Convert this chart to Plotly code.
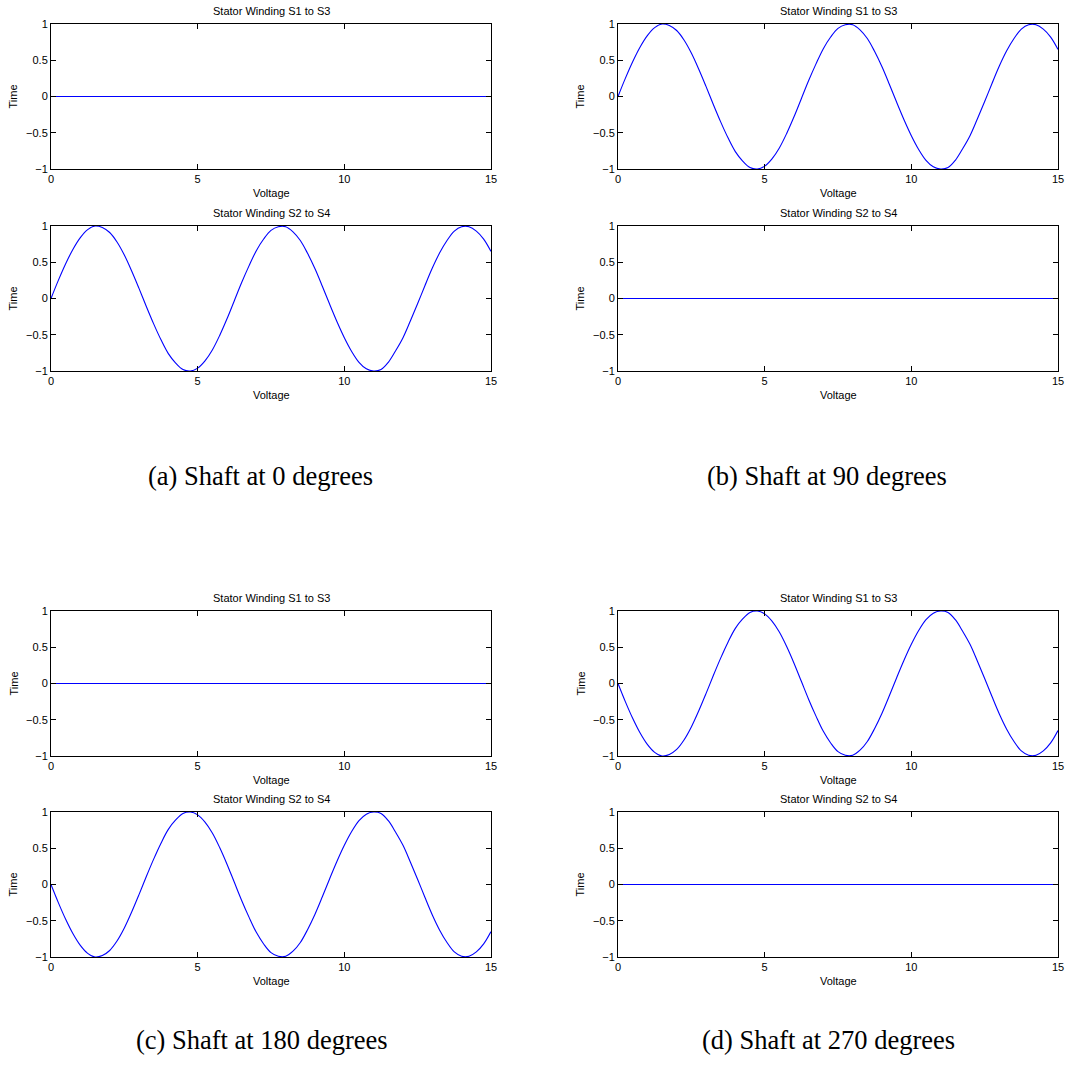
import plotly.graph_objects as go

# ---- data ----
x_volt = [0, 0.25, 0.5, 0.75, 1, 1.25, 1.5, 1.75, 2, 2.25, 2.5, 2.75, 3, 3.25, 3.5, 3.75,
          4, 4.25, 4.5, 4.75, 5, 5.25, 5.5, 5.75, 6, 6.25, 6.5, 6.75, 7, 7.25, 7.5, 7.75,
          8, 8.25, 8.5, 8.75, 9, 9.25, 9.5, 9.75, 10, 10.25, 10.5, 10.75, 11, 11.25, 11.5,
          11.75, 12, 12.25, 12.5, 12.75, 13, 13.25, 13.5, 13.75, 14, 14.25, 14.5, 14.75, 15]
wave_pos = [0.00, 0.25, 0.48, 0.68, 0.84, 0.95, 1.00, 0.98, 0.91, 0.78, 0.60, 0.38, 0.14,
            -0.11, -0.35, -0.57, -0.76, -0.89, -0.98, -1.00, -0.96, -0.86, -0.71, -0.51,
            -0.28, -0.03, 0.22, 0.45, 0.66, 0.82, 0.94, 0.99, 0.99, 0.92, 0.80, 0.62, 0.41,
            0.17, -0.08, -0.32, -0.54, -0.73, -0.88, -0.97, -1.00, -0.98, -0.88, -0.72,
            -0.54, -0.31, -0.07, 0.18, 0.42, 0.63, 0.80, 0.93, 0.99, 0.99, 0.93, 0.82, 0.65]
wave_neg = [0.00, -0.25, -0.48, -0.68, -0.84, -0.95, -1.00, -0.98, -0.91, -0.78, -0.60, -0.38,
            -0.14, 0.11, 0.35, 0.57, 0.76, 0.89, 0.98, 1.00, 0.96, 0.86, 0.71, 0.51,
            0.28, 0.03, -0.22, -0.45, -0.66, -0.82, -0.94, -0.99, -0.99, -0.92, -0.80, -0.62,
            -0.41, -0.17, 0.08, 0.32, 0.54, 0.73, 0.88, 0.97, 1.00, 0.98, 0.88, 0.72,
            0.54, 0.31, 0.07, -0.18, -0.42, -0.63, -0.80, -0.93, -0.99, -0.99, -0.93, -0.82, -0.65]
x_flat = [0, 15]
wave_flat = [0, 0]

x_ticks = [0, 5, 10, 15]
y_ticks = [-1, -0.5, 0, 0.5, 1]
y_tick_text = ["\u22121", "\u22120.5", "0", "0.5", "1"]
title_13 = "Stator Winding S1 to S3"
title_24 = "Stator Winding S2 to S4"
captions = ["(a) Shaft at 0 degrees", "(b) Shaft at 90 degrees",
            "(c) Shaft at 180 degrees", "(d) Shaft at 270 degrees"]

# ---- layout geometry (page pixels) ----
W, H = 1067, 1079
cols = [(51, 491), (618, 1058)]
rows_px = [(24, 169), (226, 371), (611, 756), (812, 957)]
cap_pos = [(260, 476), (827, 476), (262, 1040), (828, 1040)]

# panels: (col, row, x, y, title)
panels = [
    (0, 0, x_flat, wave_flat, title_13),
    (0, 1, x_volt, wave_pos, title_24),
    (1, 0, x_volt, wave_pos, title_13),
    (1, 1, x_flat, wave_flat, title_24),
    (0, 2, x_flat, wave_flat, title_13),
    (0, 3, x_volt, wave_neg, title_24),
    (1, 2, x_volt, wave_neg, title_13),
    (1, 3, x_flat, wave_flat, title_24),
]

fig = go.Figure()
annotations = []
FONT = "Liberation Sans, Arial, sans-serif"

def px_x(p):
    return p / W

def px_y(p):
    return 1 - p / H

for i, (c, r, xs, ys, ttl) in enumerate(panels):
    n = i + 1
    xa = "x" if n == 1 else f"x{n}"
    ya = "y" if n == 1 else f"y{n}"
    fig.add_trace(go.Scatter(x=xs, y=ys, mode="lines", xaxis=xa, yaxis=ya,
                             line=dict(color="#0000ff", width=1.1, shape="spline", smoothing=1.0),
                             showlegend=False, hoverinfo="skip"))
    x0, x1 = cols[c]
    t, b = rows_px[r]
    common = dict(showline=True, linecolor="black", linewidth=1, mirror="ticks",
                  ticks="inside", ticklen=5, tickcolor="black", tickwidth=1,
                  showgrid=False, zeroline=False, automargin=False,
                  tickfont=dict(family=FONT, size=11, color="black"))
    fig.layout[f"xaxis{'' if n == 1 else n}"] = dict(
        domain=[px_x(x0), px_x(x1)], range=[0, 15], tickvals=x_ticks,
        anchor=ya, **common)
    fig.layout[f"yaxis{'' if n == 1 else n}"] = dict(
        domain=[px_y(b), px_y(t)], range=[-1, 1], tickvals=y_ticks,
        ticktext=y_tick_text, anchor=xa, **common)
    cx = (x0 + x1) / 2
    annotations.append(dict(text=ttl, x=px_x(cx), y=px_y(t - 13), xref="paper", yref="paper",
                            showarrow=False, xanchor="center", yanchor="middle",
                            font=dict(family=FONT, size=11, color="black")))
    annotations.append(dict(text="Voltage", x=px_x(cx), y=px_y(b + 24), xref="paper", yref="paper",
                            showarrow=False, xanchor="center", yanchor="middle",
                            font=dict(family=FONT, size=11, color="black")))
    annotations.append(dict(text="Time", x=px_x(x0 - 38), y=px_y((t + b) / 2), xref="paper",
                            yref="paper", showarrow=False, textangle=-90,
                            xanchor="center", yanchor="middle",
                            font=dict(family=FONT, size=11, color="black")))

for txt, (cx, cy) in zip(captions, cap_pos):
    annotations.append(dict(text=txt, x=px_x(cx), y=px_y(cy), xref="paper", yref="paper",
                            showarrow=False, xanchor="center", yanchor="middle",
                            font=dict(family="Liberation Serif, Times New Roman, serif",
                                      size=26.5, color="black")))

fig.update_layout(width=W, height=H, margin=dict(l=0, r=0, t=0, b=0, autoexpand=False),
                  paper_bgcolor="white", plot_bgcolor="white",
                  annotations=annotations)

fig.write_html("out.html", config={"displayModeBar": False},
               post_script="document.body.style.margin='0';document.body.style.overflow='hidden';")
